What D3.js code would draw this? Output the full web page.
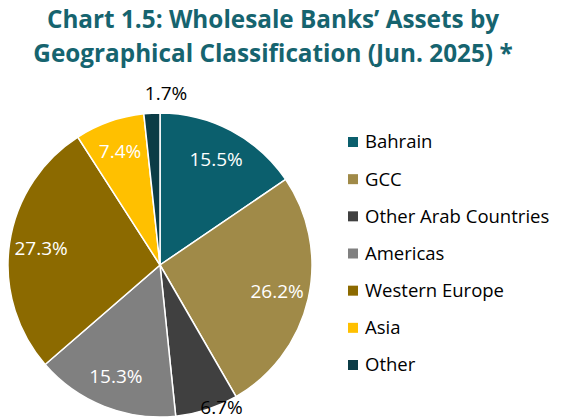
<!DOCTYPE html>
<html>
<head>
<meta charset="utf-8">
<script src="https://cdn.jsdelivr.net/npm/d3@7"></script>
<style>
  body { margin: 0; background: #fff; }
  svg { font-family: "Open Sans", "Noto Sans", sans-serif; }
</style>
</head>
<body>
<svg width="561" height="418"></svg>
<script>
const categories = ['Bahrain', 'GCC', 'Other Arab Countries', 'Americas', 'Western Europe', 'Asia', 'Other'];
const shares = [15.5, 26.2, 6.7, 15.3, 27.3, 7.4, 1.7];
const colors = ['#0b5f6d', '#a08a48', '#404040', '#808080', '#8c6a00', '#ffc000', '#0b3c46'];
const titleLines = ['Chart 1.5: Wholesale Banks\u2019 Assets by', 'Geographical Classification (Jun. 2025) *'];

const svg = d3.select('svg');
const cx = 160, cy = 265, R = 152;

// title
svg.selectAll('text.title')
  .data(titleLines)
  .enter().append('text')
  .attr('class', 'title')
  .attr('x', 273)
  .attr('y', (d, i) => 28 + i * 34)
  .attr('text-anchor', 'middle')
  .attr('font-size', 24.3)
  .attr('font-weight', 'bold')
  .attr('fill', '#16646f')
  .text(d => d);

const data = categories.map((c, i) => ({ name: c, value: shares[i], color: colors[i] }));

const pie = d3.pie().sort(null).value(d => d.value);
const arc = d3.arc().innerRadius(0).outerRadius(R);

const g = svg.append('g').attr('transform', `translate(${cx},${cy})`);

const arcs = pie(data);

g.selectAll('path')
  .data(arcs)
  .enter().append('path')
  .attr('d', arc)
  .attr('fill', d => d.data.color)
  .attr('stroke', '#fff')
  .attr('stroke-width', 1.5);

// label radius: inside for big slices, at/outside the edge for small ones
const isSmall = v => v < 7;
function labelR(v) {
  if (v < 2) return R + 20;
  if (v < 7) return R - 2;
  return R * 0.79;
}

g.selectAll('text.lbl')
  .data(arcs)
  .enter().append('text')
  .attr('class', 'lbl')
  .attr('transform', d => {
    const a = (d.startAngle + d.endAngle) / 2;
    const r = labelR(d.data.value);
    return `translate(${Math.sin(a) * r},${-Math.cos(a) * r})`;
  })
  .attr('text-anchor', d => isSmall(d.data.value) ? 'start' : 'middle')
  .attr('dx', d => isSmall(d.data.value) ? -6 : 0)
  .attr('dy', '0.35em')
  .attr('font-size', 19)
  .attr('fill', d => isSmall(d.data.value) ? '#000' : '#fff')
  .text(d => d3.format('.1f')(d.data.value) + '%');

// legend
const leg = svg.append('g').attr('transform', 'translate(348,0)');
const ly = d3.scalePoint().domain(categories).range([142, 365]);

const items = leg.selectAll('g')
  .data(data)
  .enter().append('g')
  .attr('transform', d => `translate(0,${ly(d.name)})`);

items.append('rect')
  .attr('x', 0).attr('y', -5)
  .attr('width', 10).attr('height', 10)
  .attr('fill', d => d.color);

items.append('text')
  .attr('x', 17)
  .attr('dy', '0.35em')
  .attr('font-size', 18.5)
  .attr('fill', '#000')
  .text(d => d.name);
</script>
</body>
</html>
